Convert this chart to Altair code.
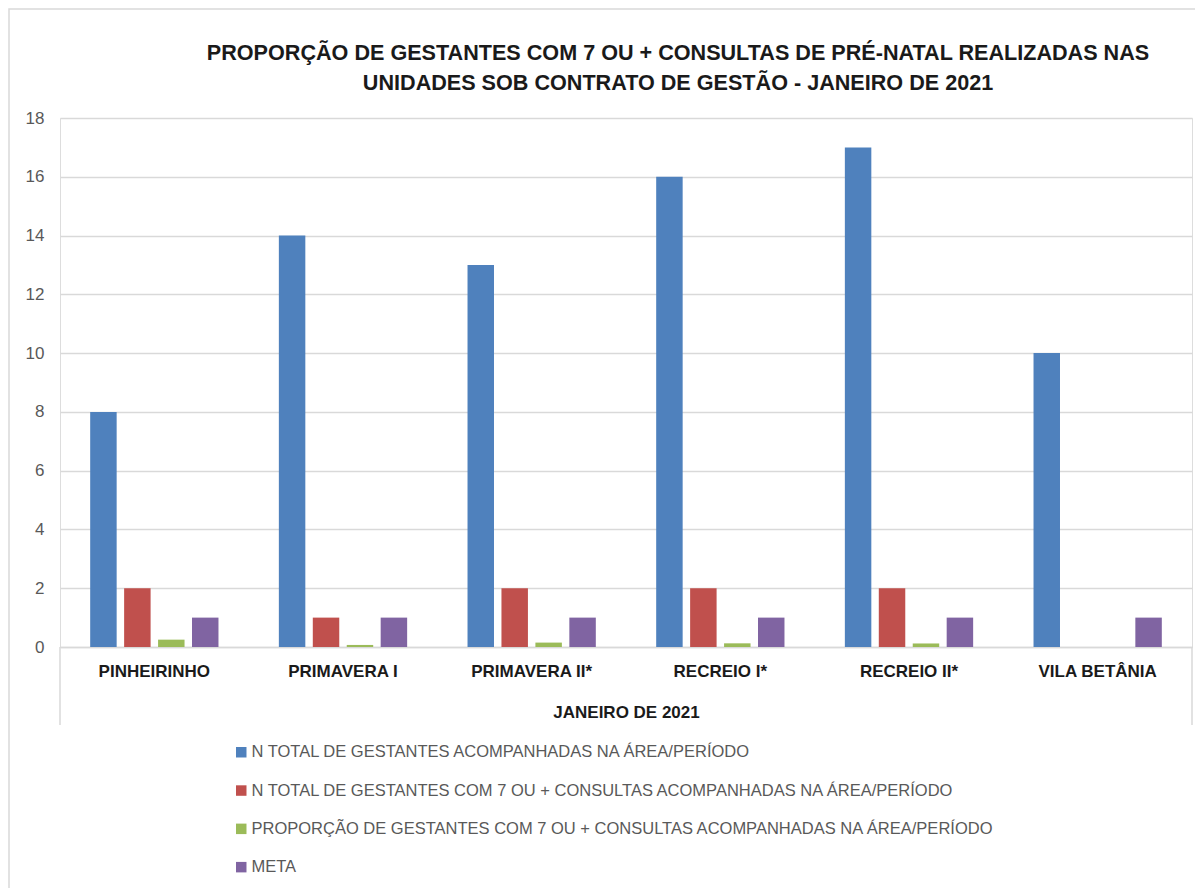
import altair as alt
import pandas as pd

categories = ["PINHEIRINHO", "PRIMAVERA I", "PRIMAVERA II*", "RECREIO I*", "RECREIO II*", "VILA BETÂNIA"]
series = [
    "N TOTAL DE GESTANTES ACOMPANHADAS NA ÁREA/PERÍODO",
    "N TOTAL DE GESTANTES COM 7 OU + CONSULTAS ACOMPANHADAS NA ÁREA/PERÍODO",
    "PROPORÇÃO  DE GESTANTES COM 7 OU + CONSULTAS ACOMPANHADAS NA ÁREA/PERÍODO",
    "META",
]
total_gestantes = [8, 14, 13, 16, 17, 10]
gestantes_7 = [2, 1, 2, 2, 2, 0]
proporcao = [0.25, 0.07, 0.15, 0.125, 0.12, 0]
meta = [1, 1, 1, 1, 1, 1]
colors = ["#4f81bd", "#c0504d", "#9bbb59", "#8064a2"]
y_ticks = [0, 2, 4, 6, 8, 10, 12, 14, 16, 18]

title_lines = [
    "PROPORÇÃO DE GESTANTES COM 7 OU + CONSULTAS DE PRÉ-NATAL REALIZADAS NAS",
    "UNIDADES SOB CONTRATO DE GESTÃO - JANEIRO DE 2021",
]
x_title = "JANEIRO DE 2021"

rows = []
for s, vals in zip(series, [total_gestantes, gestantes_7, proporcao, meta]):
    for c, v in zip(categories, vals):
        rows.append({"categoria": c, "serie": s, "valor": v})
df = pd.DataFrame(rows)

FONT = "Liberation Sans, Arial, sans-serif"
W, H = 1132, 529

bars = alt.Chart(df).mark_bar().encode(
    x=alt.X("categoria:N", sort=categories,
            scale=alt.Scale(paddingInner=0.32, paddingOuter=0.16),
            axis=alt.Axis(title=x_title, labelAngle=0, labelFont=FONT, labelFontWeight="bold",
                          labelFontSize=17, labelColor="#1a1a1a", labelPadding=16,
                          ticks=False, domainColor="#d9d9d9", domainWidth=1.5,
                          titleFont=FONT, titleFontSize=17, titleFontWeight="bold",
                          titleColor="#1a1a1a", titlePadding=25)),
    xOffset=alt.XOffset("serie:N", sort=series, scale=alt.Scale(paddingInner=0.22, paddingOuter=0)),
    y=alt.Y("valor:Q", scale=alt.Scale(domain=[0, 18], nice=False),
            axis=alt.Axis(title=None, values=y_ticks, grid=True, gridColor="#d9d9d9", gridWidth=1.5,
                          domain=False, ticks=False, labelFont=FONT, labelFontSize=17,
                          labelColor="#595959", labelPadding=16)),
    color=alt.Color("serie:N", sort=series, scale=alt.Scale(domain=series, range=colors),
                    legend=alt.Legend(title=None, orient="none", legendX=173, legendY=626,
                                      direction="vertical", symbolType="square", symbolSize=110,
                                      symbolStrokeWidth=0, labelFont=FONT, labelFontSize=16.5,
                                      labelColor="#595959", labelLimit=0, rowPadding=21.3,
                                      labelOffset=2)),
)

one = alt.Data(values=[{"k": 1}])
axis_frame = alt.Chart(one).mark_rule(color="#d9d9d9", strokeWidth=1.5).encode(
    x=alt.value(0), y=alt.value(H), y2=alt.value(H + 78))
axis_frame_r = alt.Chart(one).mark_rule(color="#d9d9d9", strokeWidth=1.5).encode(
    x=alt.value(W), y=alt.value(H), y2=alt.value(H + 78))
outer = alt.Chart(one).mark_rect(fill=None, stroke="#d9d9d9", strokeWidth=1.5).encode(
    x=alt.value(-51), x2=alt.value(W + 8), y=alt.value(-109), y2=alt.value(H + 300))

chart = alt.layer(bars, axis_frame, axis_frame_r, outer).properties(
    width=W, height=H,
    autosize=alt.AutoSizeParams(type="none"),
    padding={"left": 52, "top": 110, "right": 3, "bottom": 242},
    title=alt.Title(title_lines, anchor="middle", frame="group", dx=52, offset=-86,
                    font=FONT, fontSize=21.6, fontWeight="bold", color="#1a1a1a", lineHeight=30),
).configure_view(stroke=None).configure(background="white")

chart.save("out.html", embed_options={"renderer": "svg", "actions": False})
